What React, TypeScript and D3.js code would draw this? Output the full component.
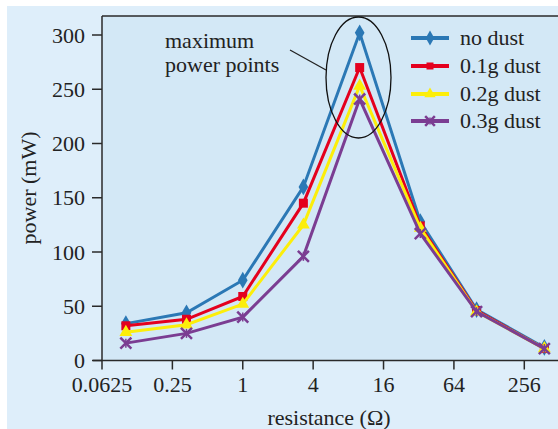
import { useEffect, useRef } from "react";
import * as d3 from "d3";

const resistance = [0.1, 0.33, 1, 3.3, 10, 33, 100, 380];
const noDust = [34, 44, 74, 160, 302, 128, 47, 12];
const dust01 = [32, 38, 59, 145, 270, 124, 46, 11];
const dust02 = [26, 33, 52, 125, 253, 122, 45, 11];
const dust03 = [16, 25, 40, 96, 241, 117, 45, 11];

const seriesNames = ["no dust", "0.1g dust", "0.2g dust", "0.3g dust"];
const xTicks = [0.0625, 0.25, 1, 4, 16, 64, 256];
const xTickLabels = ["0.0625", "0.25", "1", "4", "16", "64", "256"];
const yTicks = [0, 50, 100, 150, 200, 250, 300];

const W = 558;
const H = 429;
const FONT = "'Liberation Serif', 'Times New Roman', serif";

export default function App() {
  const svgRef = useRef<SVGSVGElement>(null);

  useEffect(() => {
    const el = svgRef.current;
    if (!el) return;
    d3.select(el).selectAll("*").remove();

    const svg = d3.select(el).attr("width", W).attr("height", H);

    const left = 102;
    const top = 16;
    const bottom = 360.5;

    const x = d3.scaleLog().base(2).domain([0.0625, 256]).range([left, 524.3]);
    const y = d3.scaleLinear().domain([0, 300]).range([bottom, 35]);

    // backgrounds
    svg.append("rect").attr("width", W).attr("height", H).attr("fill", "#ffffff");
    svg.append("rect").attr("x", 7).attr("y", 6).attr("width", W).attr("height", H).attr("fill", "#deeefa");
    svg
      .append("rect")
      .attr("x", left)
      .attr("y", top)
      .attr("width", W - left)
      .attr("height", bottom - top)
      .attr("fill", "#d3e8f6");

    // frame
    const axisColor = "#2a2a2a";
    svg.append("line").attr("x1", left).attr("x2", W).attr("y1", top).attr("y2", top)
      .attr("stroke", axisColor).attr("stroke-width", 1.5);
    svg.append("line").attr("x1", left).attr("x2", left).attr("y1", top).attr("y2", bottom)
      .attr("stroke", axisColor).attr("stroke-width", 1.5);
    svg.append("line").attr("x1", left - 9).attr("x2", W).attr("y1", bottom).attr("y2", bottom)
      .attr("stroke", axisColor).attr("stroke-width", 1.5);

    // y ticks
    yTicks.forEach((t) => {
      svg.append("line").attr("x1", left - 10).attr("x2", left).attr("y1", y(t)).attr("y2", y(t))
        .attr("stroke", axisColor).attr("stroke-width", 1.5);
      svg.append("text").attr("x", 85).attr("y", y(t)).attr("dy", "0.35em")
        .attr("text-anchor", "end").attr("font-family", FONT).attr("font-size", 22)
        .attr("fill", "#222").text(String(t));
    });

    // x ticks
    xTicks.forEach((t, i) => {
      svg.append("line").attr("x1", x(t)).attr("x2", x(t)).attr("y1", bottom).attr("y2", bottom + 9)
        .attr("stroke", axisColor).attr("stroke-width", 1.5);
      svg.append("text").attr("x", x(t)).attr("y", 392)
        .attr("text-anchor", "middle").attr("font-family", FONT).attr("font-size", 22)
        .attr("fill", "#222").text(xTickLabels[i]);
    });

    // axis titles
    svg.append("text").attr("x", 329).attr("y", 425).attr("text-anchor", "middle")
      .attr("font-family", FONT).attr("font-size", 22).attr("fill", "#222")
      .text("resistance (Ω)");
    svg.append("text").attr("transform", "translate(36,188) rotate(-90)")
      .attr("text-anchor", "middle").attr("font-family", FONT).attr("font-size", 22)
      .attr("fill", "#222").text("power (mW)");

    const colors = ["#2b78b5", "#e4001e", "#fcee0a", "#7b3d92"];
    const allSeries = [noDust, dust01, dust02, dust03];

    const line = d3
      .line<number>()
      .x((_, i) => x(resistance[i]))
      .y((d) => y(d));

    const drawMarker = (g: d3.Selection<SVGGElement, unknown, null, undefined>, k: number, cx: number, cy: number, s: number) => {
      const c = colors[k];
      if (k === 0) {
        g.append("path").attr("d", d3.symbol(d3.symbolDiamond, s * 9)()).attr("transform", `translate(${cx},${cy})`)
          .attr("fill", c);
      } else if (k === 1) {
        g.append("rect").attr("x", cx - s / 2).attr("y", cy - s / 2).attr("width", s).attr("height", s).attr("fill", c);
      } else if (k === 2) {
        g.append("path").attr("d", d3.symbol(d3.symbolTriangle, s * 8)()).attr("transform", `translate(${cx},${cy})`)
          .attr("fill", c);
      } else {
        g.append("path").attr("d", d3.symbol(d3.symbolX, s * 9)()).attr("transform", `translate(${cx},${cy})`)
          .attr("fill", "none").attr("stroke", c).attr("stroke-width", 2.5);
        g.append("line").attr("x1", cx).attr("x2", cx).attr("y1", cy - s / 2).attr("y2", cy + s / 2)
          .attr("stroke", c).attr("stroke-width", 1.5);
      }
    };

    allSeries.forEach((vals, k) => {
      const g = svg.append("g");
      g.append("path").datum(vals).attr("d", line).attr("fill", "none")
        .attr("stroke", colors[k]).attr("stroke-width", 3).attr("stroke-linejoin", "miter");
      vals.forEach((v, i) => drawMarker(g, k, x(resistance[i]), y(v), 9));
    });

    // legend
    const legendY = [38, 66, 94, 121];
    seriesNames.forEach((name, k) => {
      const g = svg.append("g");
      g.append("line").attr("x1", 411).attr("x2", 449).attr("y1", legendY[k]).attr("y2", legendY[k])
        .attr("stroke", colors[k]).attr("stroke-width", 4);
      drawMarker(g, k, 430, legendY[k], 7);
      g.append("text").attr("x", 460).attr("y", legendY[k]).attr("dy", "0.33em")
        .attr("font-family", FONT).attr("font-size", 22).attr("fill", "#222").text(name);
    });

    // annotation
    svg.append("ellipse").attr("cx", 358.5).attr("cy", 77.5).attr("rx", 32.5).attr("ry", 60.5)
      .attr("fill", "none").attr("stroke", "#111").attr("stroke-width", 1.3);
    svg.append("line").attr("x1", 290).attr("y1", 50).attr("x2", 326).attr("y2", 70)
      .attr("stroke", "#222").attr("stroke-width", 1.3);
    svg.append("text").attr("x", 165).attr("y", 48).attr("font-family", FONT).attr("font-size", 22)
      .attr("fill", "#222").text("maximum");
    svg.append("text").attr("x", 165).attr("y", 72).attr("font-family", FONT).attr("font-size", 22)
      .attr("fill", "#222").text("power points");
  }, []);

  return <svg ref={svgRef} style={{ position: "absolute", left: 0, top: 0, display: "block" }} />;
}
